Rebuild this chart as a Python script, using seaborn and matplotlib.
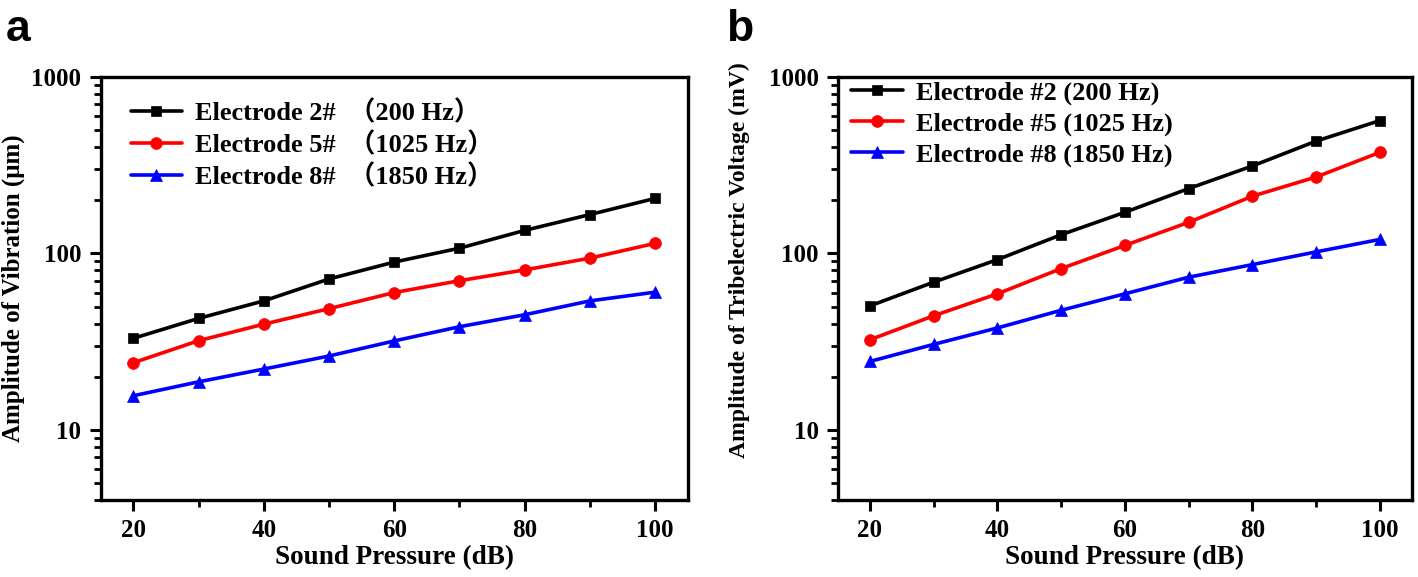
import numpy as np
import pandas as pd
import seaborn as sns
import matplotlib
matplotlib.use("Agg")
import matplotlib.pyplot as plt
from matplotlib.ticker import FixedLocator, LogLocator, NullFormatter, FuncFormatter

# ---- data ----
sound_pressure = [20, 30, 40, 50, 60, 70, 80, 90, 100]

vib_e2 = [33, 42.8, 53.8, 71.6, 89.3, 107, 135, 166, 205]
vib_e5 = [24, 32, 39.7, 48.6, 60, 70, 80.6, 94, 114]
vib_e8 = [15.6, 18.7, 22.1, 26.2, 31.9, 38.4, 44.9, 53.8, 60.3]

volt_e2 = [50.4, 68.7, 92.2, 127.6, 171, 233, 313, 433, 566]
volt_e5 = [32.4, 44.3, 59, 82, 111, 150, 211, 271, 374]
volt_e8 = [24.4, 30.5, 37.8, 47.6, 59, 73.3, 86.4, 102, 120]

labels_a = ["Electrode 2#  （200 Hz）", "Electrode 5#  （1025 Hz）", "Electrode 8#  （1850 Hz）"]
labels_b = ["Electrode #2 (200 Hz)", "Electrode #5 (1025 Hz)", "Electrode #8 (1850 Hz)"]

xlabel = "Sound Pressure (dB)"
ylabel_a = "Amplitude of Vibration (μm)"
ylabel_b = "Amplitude of Tribelectric Voltage (mV)"

colors = ["#000000", "#ff0000", "#0000ff"]
markers = ["s", "o", "^"]
msizes = [7.5, 8.5, 9]

sns.set_style("ticks")
plt.rcParams["font.family"] = ["Liberation Serif", "Noto Sans CJK SC", "DejaVu Sans"]
plt.rcParams["font.weight"] = "bold"
plt.rcParams["axes.labelweight"] = "bold"
for k in ["text.color", "axes.labelcolor", "xtick.color", "ytick.color", "axes.edgecolor"]:
    plt.rcParams[k] = "black"

fig = plt.figure(figsize=(14.18, 5.77), dpi=100)
ax_a = fig.add_axes([0.0710, 0.1334, 0.4140, 0.7332])
ax_b = fig.add_axes([0.5910, 0.1334, 0.4046, 0.7332])


def draw(ax, series, labels, ylabel, ylab_size, ylab_coords, leg_anchor):
    for vals, lab, c, m, ms in zip(series, labels, colors, markers, msizes):
        df = pd.DataFrame({"x": sound_pressure, "y": vals})
        sns.lineplot(data=df, x="x", y="y", ax=ax, color=c, marker=m,
                     markersize=ms, markeredgecolor=c, markeredgewidth=0.5,
                     linewidth=2.6, label=lab)
    ax.set_yscale("log")
    ax.set_xlim(15, 105)
    ax.set_ylim(4, 1000)
    ax.xaxis.set_major_locator(FixedLocator([20, 40, 60, 80, 100]))
    ax.xaxis.set_minor_locator(FixedLocator([30, 50, 70, 90]))
    ax.yaxis.set_major_locator(FixedLocator([10, 100, 1000]))
    ax.yaxis.set_minor_locator(LogLocator(base=10, subs=np.arange(2, 10)))
    ax.yaxis.set_minor_formatter(NullFormatter())
    ax.yaxis.set_major_formatter(FuncFormatter(lambda v, p: f"{int(round(v))}"))
    ax.tick_params(axis="both", which="major", direction="out", length=8, width=2.2,
                   labelsize=18, top=False, right=False, pad=6)
    ax.tick_params(axis="both", which="minor", direction="out", length=5, width=2.0,
                   top=False, right=False)
    for s in ax.spines.values():
        s.set_visible(True)
        s.set_linewidth(2.4)
        s.set_color("black")
    ax.set_xlabel(xlabel, fontsize=19.5, fontweight="bold", labelpad=2)
    ax.set_ylabel(ylabel, fontsize=ylab_size, fontweight="bold")
    ax.yaxis.set_label_coords(*ylab_coords)
    for t in ax.get_xticklabels() + ax.get_yticklabels():
        t.set_fontweight("bold")
    leg = ax.legend(loc="upper left", frameon=False, fontsize=19, handlelength=1.95,
                    handletextpad=0.5, labelspacing=0.26, borderaxespad=0.0,
                    borderpad=0.0, bbox_to_anchor=leg_anchor)
    for t in leg.get_texts():
        t.set_fontweight("bold")


draw(ax_a, [vib_e2, vib_e5, vib_e8], labels_a, ylabel_a, 18, (-0.129, 0.5), (0.051, 0.946))
draw(ax_b, [volt_e2, volt_e5, volt_e8], labels_b, ylabel_b, 17, (-0.153, 0.566), (0.023, 0.99))

fig.text(0.004, 0.985, "a", fontsize=32, fontweight="bold", family="Liberation Sans", va="top")
fig.text(0.512, 0.985, "b", fontsize=32, fontweight="bold", family="Liberation Sans", va="top")

fig.savefig("out.png", dpi=100)
